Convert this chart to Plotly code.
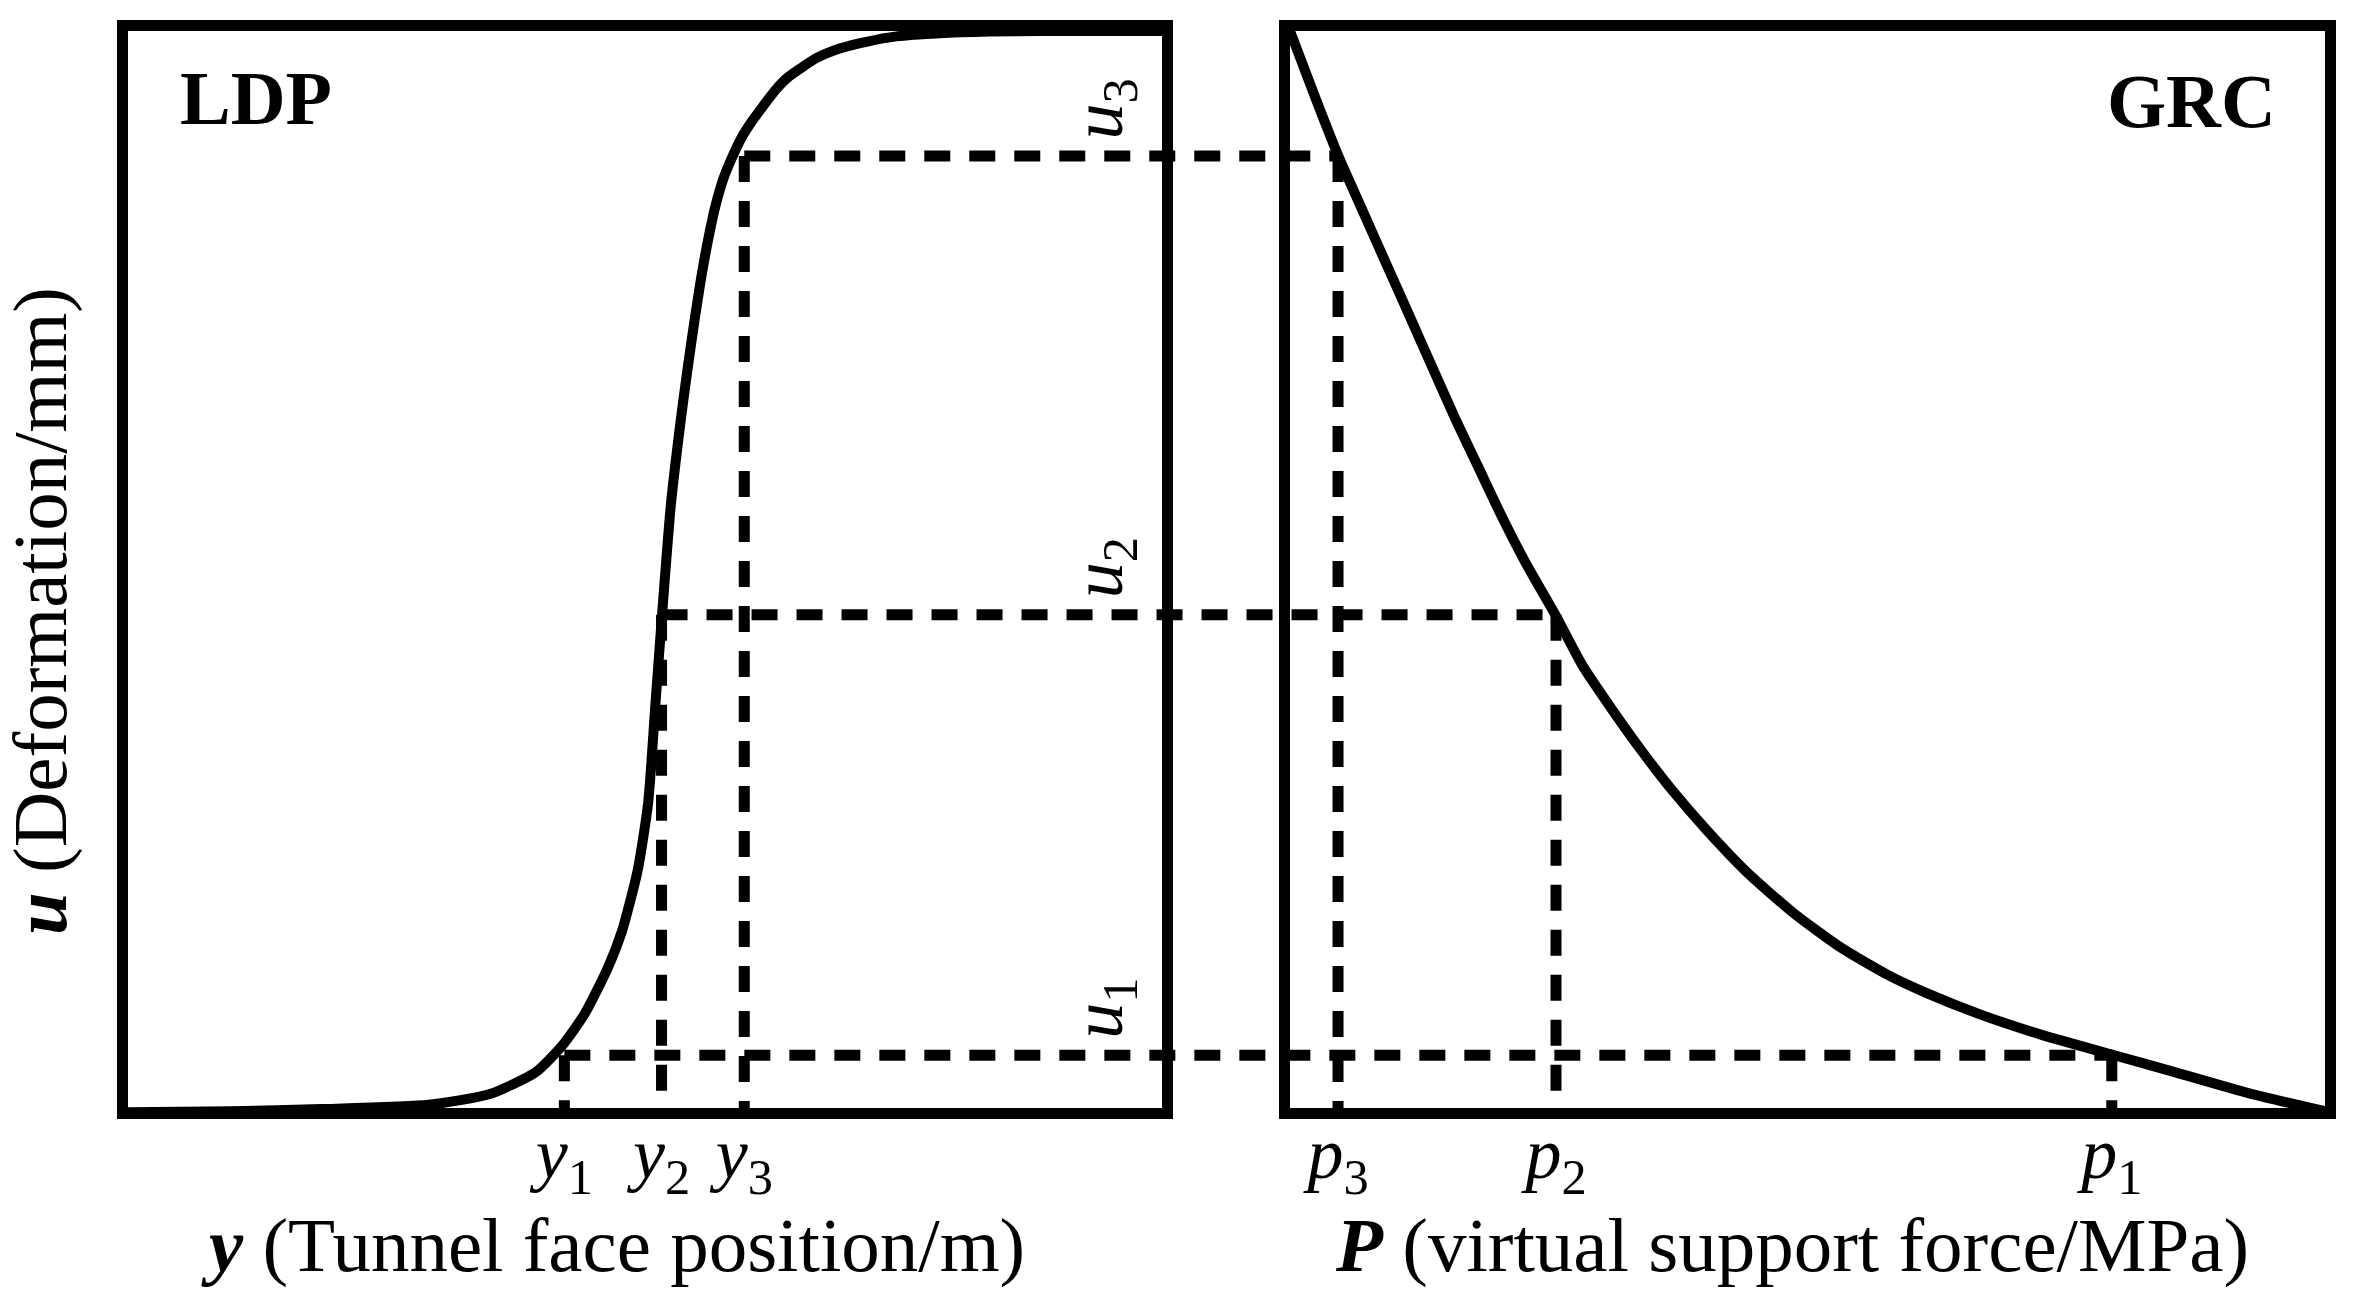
import plotly.graph_objects as go

W, H = 2353, 1313
OFF = 8  # page offset of the figure (body margin)
FONT = "Liberation Serif"

# ---------------- data ----------------
# LDP curve: tunnel face position (0-100) vs deformation (0-100)
ldp_y = [0.0, 10.0, 18.7, 29.1, 35.0, 39.4, 42.0, 44.2, 46.4, 47.8, 49.3, 50.3,
         51.0, 51.65, 52.5, 53.5, 54.1, 54.8, 55.4, 56.1, 56.8, 57.55, 58.3,
         59.4, 60.4, 61.4, 62.6, 63.7, 65.0, 66.6, 68.9, 71.4, 74.3, 78.5,
         83.4, 88.2, 100.0]
ldp_u = [-0.4, -0.3, -0.1, 0.3, 1.3, 3.3, 5.8, 8.8, 13.0, 16.5, 22.1, 28.3,
         37.4, 45.8, 56.0, 64.2, 68.5, 73.2, 76.9, 80.6, 83.7, 86.2, 88.0,
         90.2, 91.7, 93.0, 94.5, 95.6, 96.5, 97.5, 98.4, 99.0, 99.5, 99.8,
         99.95, 100.0, 100.0]

# GRC curve: virtual support force (0-100) vs deformation (0-100)
grc_p = [0.0, 2.43, 4.70, 6.96, 9.22, 11.49, 13.75, 16.02, 18.28, 20.54, 22.81,
         25.72, 28.31, 31.22, 34.14, 37.04, 40.28, 44.16, 48.69, 53.22, 57.75,
         61.63, 66.80, 72.63, 79.55, 85.56, 92.69, 100.0]
grc_u = [100.0, 93.85, 88.32, 83.44, 78.55, 73.67, 68.78, 63.89, 59.33, 54.77,
         50.54, 45.65, 41.0, 36.86, 32.95, 29.37, 25.78, 21.88, 18.07, 14.90,
         12.36, 10.62, 8.65, 6.79, 4.92, 3.31, 1.36, -0.3]

# marked states 1, 2, 3
u_marks = [4.9, 45.8, 88.4]
y_marks = [42.2, 51.6, 59.6]
p_marks = [79.4, 25.7, 4.64]

y_tick_text = ["<i>y</i><sub>1</sub>", "<i>y</i><sub>2</sub>", "<i>y</i><sub>3</sub>"]
p_tick_text = ["<i>p</i><sub>1</sub>", "<i>p</i><sub>2</sub>", "<i>p</i><sub>3</sub>"]
u_label_text = ["<i>u</i><sub>1</sub>", "<i>u</i><sub>2</sub>", "<i>u</i><sub>3</sub>"]

x_title_left = "<b><i>y</i></b> (Tunnel face position/m)"
x_title_right = "<b><i>P</i></b> (virtual support force/MPa)"
y_title = "<b><i>u</i></b> (Deformation/mm)"
panel_left = "LDP"
panel_right = "GRC"


# ---------------- layout geometry (page pixels -> paper) ----------------
def px(x):
    return (x - OFF) / W


def py(y):
    return 1 - (y - OFF) / H


dL = [px(128), px(1162)]
dR = [px(1290), px(2325)]
dY = [py(1108), py(31)]
LW = 11
DASH = "26px,19px"


def fL(v):
    return dL[0] + v / 100.0 * (dL[1] - dL[0])


def fR(v):
    return dR[0] + v / 100.0 * (dR[1] - dR[0])


fig = go.Figure()

line_curve = dict(color="black", width=10, shape="spline", smoothing=0.6)
line_dash = dict(color="black", width=LW, dash=DASH)

fig.add_trace(go.Scatter(x=ldp_y, y=ldp_u, mode="lines", line=line_curve,
                         xaxis="x", yaxis="y", hoverinfo="skip"))
fig.add_trace(go.Scatter(x=grc_p, y=grc_u, mode="lines", line=line_curve,
                         xaxis="x2", yaxis="y2", hoverinfo="skip"))

for yv, uv in zip(y_marks, u_marks):
    fig.add_trace(go.Scatter(x=[yv, yv], y=[uv, 0], mode="lines", line=line_dash,
                             xaxis="x", yaxis="y", hoverinfo="skip"))
for pv, uv in zip(p_marks, u_marks):
    fig.add_trace(go.Scatter(x=[pv, pv], y=[uv, 0], mode="lines", line=line_dash,
                             xaxis="x2", yaxis="y2", hoverinfo="skip"))
# horizontal connectors across both panels (overlay axis spanning full width)
for yv, pv, uv in zip(y_marks, p_marks, u_marks):
    fig.add_trace(go.Scatter(x=[fL(yv), fR(pv)], y=[uv, uv], mode="lines",
                             line=line_dash, xaxis="x3", yaxis="y3", hoverinfo="skip"))

box = dict(showline=True, linewidth=LW, linecolor="black", mirror=True,
           showgrid=False, zeroline=False, ticks="", fixedrange=True)
tickfont = dict(family=FONT, size=72, color="black")

fig.update_layout(
    width=W, height=H, autosize=False,
    margin=dict(l=0, r=0, t=0, b=0),
    paper_bgcolor="white", plot_bgcolor="rgba(0,0,0,0)",
    showlegend=False,
    xaxis=dict(domain=dL, range=[0, 100], anchor="y", tickvals=y_marks,
               ticktext=y_tick_text, tickfont=tickfont, ticklabelstandoff=-27, **box),
    yaxis=dict(domain=dY, range=[0, 100], anchor="x", showticklabels=False, **box),
    xaxis2=dict(domain=dR, range=[0, 100], anchor="y2", tickvals=p_marks,
                ticktext=p_tick_text, tickfont=tickfont, ticklabelstandoff=-27, **box),
    yaxis2=dict(domain=dY, range=[0, 100], anchor="x2", showticklabels=False, **box),
    xaxis3=dict(domain=[0, 1], range=[0, 1], anchor="y3", visible=False, fixedrange=True),
    yaxis3=dict(domain=dY, range=[0, 100], anchor="x3", visible=False, fixedrange=True),
)

ann = []
big = dict(family=FONT, size=77, color="black")
ann.append(dict(text=x_title_left, xref="paper", yref="paper", x=px(613),
                y=py(1245), xanchor="center", yanchor="middle",
                showarrow=False, font=big))
ann.append(dict(text=x_title_right, xref="paper", yref="paper", x=px(1792),
                y=py(1245), xanchor="center", yanchor="middle",
                showarrow=False, font=big))
ann.append(dict(text=y_title, xref="paper", yref="paper", x=px(40),
                y=py(611), xanchor="center", yanchor="middle",
                textangle=-90, showarrow=False, font=big))
ann.append(dict(text="<b>" + panel_left + "</b>", xref="paper", yref="paper",
                x=px(178), y=py(98), xanchor="left", yanchor="middle",
                showarrow=False, font=dict(family=FONT, size=76, color="black")))
ann.append(dict(text="<b>" + panel_right + "</b>", xref="paper", yref="paper",
                x=px(2278), y=py(101), xanchor="right", yanchor="middle",
                showarrow=False, font=dict(family=FONT, size=76, color="black")))
for txt, uv in zip(u_label_text, u_marks):
    ann.append(dict(text=txt, xref="x", yref="y", x=100, y=uv, xanchor="right",
                    yanchor="bottom", xshift=-12, yshift=14, textangle=-90,
                    showarrow=False, font=dict(family=FONT, size=72, color="black")))
fig.update_layout(annotations=ann)

fig.write_html("out.html")
